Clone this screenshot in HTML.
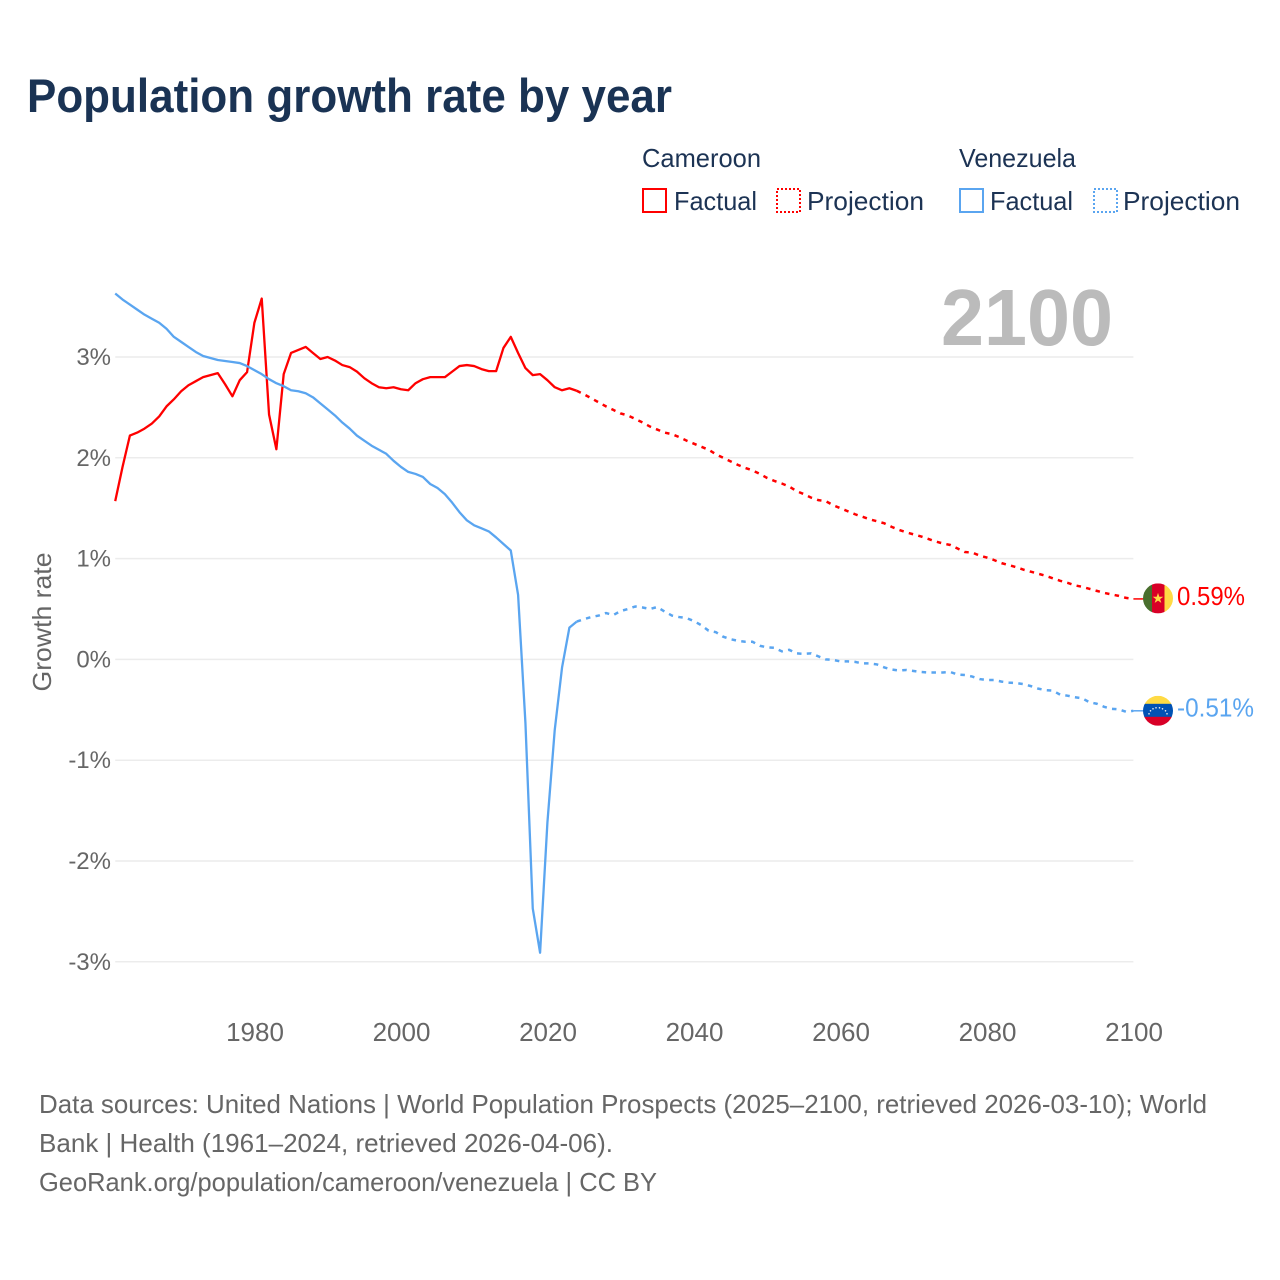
<!DOCTYPE html>
<html lang="en">
<head>
<meta charset="utf-8">
<title>Population growth rate by year</title>
<style>
  html, body { margin: 0; padding: 0; background: #fff; }
  svg { display: block; font-family: "Liberation Sans", sans-serif; }
</style>
</head>
<body>
<svg id="chart" xmlns="http://www.w3.org/2000/svg" width="1280" height="1280" viewBox="0 0 1280 1280">
  <rect x="0" y="0" width="1280" height="1280" fill="#ffffff"/>
  <text x="27" y="112" font-size="47" font-weight="700" fill="#1a3354" textLength="645" lengthAdjust="spacingAndGlyphs">Population growth rate by year</text>

  <g font-size="26" fill="#1c3354">
    <text x="642" y="167" textLength="119" lengthAdjust="spacingAndGlyphs">Cameroon</text>
    <text x="959" y="167" textLength="117" lengthAdjust="spacingAndGlyphs">Venezuela</text>
    <g>
      <rect x="643" y="189" width="23" height="23" fill="none" stroke="#ff0000" stroke-width="2"/>
      <text x="674" y="210" textLength="83" lengthAdjust="spacingAndGlyphs">Factual</text>
    </g>
    <g>
      <rect x="777" y="189" width="23" height="23" fill="none" stroke="#ff0000" stroke-width="2" stroke-dasharray="2 2"/>
      <text x="807" y="210" textLength="117" lengthAdjust="spacingAndGlyphs">Projection</text>
    </g>
    <g>
      <rect x="960" y="189" width="23" height="23" fill="none" stroke="#5aa5f0" stroke-width="2"/>
      <text x="990" y="210" textLength="83" lengthAdjust="spacingAndGlyphs">Factual</text>
    </g>
    <g>
      <rect x="1094" y="189" width="23" height="23" fill="none" stroke="#5aa5f0" stroke-width="2" stroke-dasharray="2 2"/>
      <text x="1123" y="210" textLength="117" lengthAdjust="spacingAndGlyphs">Projection</text>
    </g>
  </g>

  <text transform="translate(51 622) rotate(-90)" text-anchor="middle" font-size="26" fill="#666666" textLength="139" lengthAdjust="spacingAndGlyphs">Growth rate</text>

  <g id="grid"></g>
  <g id="y-ticks"></g>
  <g id="x-ticks"></g>

  <text x="941" y="345" font-size="80" font-weight="700" fill="#bbbbbb" textLength="172" lengthAdjust="spacingAndGlyphs">2100</text>

  <g id="series"></g>

  <g id="flag-cameroon">
    <clipPath id="clip-cm"><circle cx="0" cy="0" r="15"/></clipPath>
    <g clip-path="url(#clip-cm)">
      <rect x="-15" y="-15" width="9" height="30" fill="#496e2d"/>
      <rect x="-6" y="-15" width="12.5" height="30" fill="#d80027"/>
      <rect x="6.5" y="-15" width="9" height="30" fill="#ffda44"/>
      <polygon points="0,-5.5 1.3,-1.7 5.3,-1.7 2.1,0.7 3.3,4.5 0,2.2 -3.3,4.5 -2.1,0.7 -5.3,-1.7 -1.3,-1.7" fill="#ffda44"/>
    </g>
  </g>
  <g id="flag-venezuela">
    <clipPath id="clip-ve"><circle cx="0" cy="0" r="15"/></clipPath>
    <g clip-path="url(#clip-ve)">
      <rect x="-15" y="-15" width="30" height="9" fill="#ffda44"/>
      <rect x="-15" y="-7" width="30" height="14" fill="#0052b4"/>
      <rect x="-15" y="6" width="30" height="9" fill="#d80027"/>
      <g fill="#f0f0f0">
        <circle cx="-9" cy="3" r="0.8"/><circle cx="-7.5" cy="0" r="0.8"/><circle cx="-5" cy="-2" r="0.8"/><circle cx="-2" cy="-3" r="0.8"/>
        <circle cx="1.5" cy="-3" r="0.8"/><circle cx="4.5" cy="-2" r="0.8"/><circle cx="7.5" cy="0" r="0.8"/><circle cx="9" cy="3" r="0.8"/>
      </g>
    </g>
  </g>
  <g id="end-labels"></g>

  <g font-size="26" fill="#666666">
    <text x="39" y="1113" textLength="1168" lengthAdjust="spacingAndGlyphs">Data sources: United Nations | World Population Prospects (2025–2100, retrieved 2026-03-10); World</text>
    <text x="39" y="1152" textLength="574" lengthAdjust="spacingAndGlyphs">Bank | Health (1961–2024, retrieved 2026-04-06).</text>
    <text x="39" y="1191" textLength="618" lengthAdjust="spacingAndGlyphs">GeoRank.org/population/cameroon/venezuela | CC BY</text>
  </g>
</svg>

<script>
const factualStartYear = 1961;
const projectionStartYear = 2025;
const lastYear = 2100;
const yTickValues = [3, 2, 1, 0, -1, -2, -3];
const yTickLabels = ["3%", "2%", "1%", "0%", "-1%", "-2%", "-3%"];
const xTickValues = [1980, 2000, 2020, 2040, 2060, 2080, 2100];
const xTickLabels = ["1980", "2000", "2020", "2040", "2060", "2080", "2100"];
const endLabels = ["0.59%", "-0.51%"];

const cameroonFactual = [
  1.57, 1.91, 2.22, 2.25, 2.29, 2.34, 2.41, 2.51, 2.58, 2.66,
  2.72, 2.76, 2.80, 2.82, 2.84, 2.73, 2.61, 2.77, 2.85, 3.34,
  3.58, 2.43, 2.085, 2.83, 3.04, 3.07, 3.10, 3.04, 2.98, 3.00,
  2.965, 2.92, 2.90, 2.855, 2.79, 2.74, 2.70, 2.69, 2.70, 2.68,
  2.67, 2.74, 2.78, 2.80, 2.80, 2.80, 2.855, 2.91, 2.92, 2.91,
  2.88, 2.86, 2.86, 3.09, 3.20, 3.04, 2.89, 2.82, 2.83, 2.77,
  2.70, 2.67, 2.69, 2.665
];
const cameroonProjection = [
  2.63, 2.59, 2.55, 2.51, 2.475, 2.44, 2.42, 2.385, 2.35, 2.31,
  2.28, 2.25, 2.235, 2.205, 2.17, 2.14, 2.11, 2.08, 2.035, 2.00,
  1.965, 1.93, 1.90, 1.875, 1.84, 1.80, 1.77, 1.745, 1.715, 1.67,
  1.64, 1.605, 1.58, 1.57, 1.53, 1.50, 1.47, 1.44, 1.415, 1.39,
  1.37, 1.35, 1.315, 1.285, 1.26, 1.24, 1.22, 1.195, 1.17, 1.15,
  1.135, 1.10, 1.065, 1.06, 1.03, 1.01, 0.985, 0.955, 0.935, 0.915,
  0.89, 0.87, 0.85, 0.83, 0.805, 0.78, 0.76, 0.735, 0.72, 0.70,
  0.68, 0.66, 0.645, 0.63, 0.61, 0.60
];
const venezuelaFactual = [
  3.63, 3.57, 3.52, 3.47, 3.42, 3.38, 3.34, 3.28, 3.20, 3.15,
  3.10, 3.05, 3.01, 2.99, 2.97, 2.96, 2.95, 2.94, 2.91, 2.87,
  2.83, 2.78, 2.74, 2.71, 2.67, 2.66, 2.64, 2.60, 2.54, 2.48,
  2.42, 2.35, 2.29, 2.22, 2.17, 2.12, 2.08, 2.04, 1.97, 1.91,
  1.86, 1.84, 1.81, 1.74, 1.70, 1.64, 1.555, 1.46, 1.38, 1.33,
  1.30, 1.27, 1.21, 1.145, 1.08, 0.64, -0.63, -2.47, -2.91, -1.62,
  -0.70, -0.08, 0.315, 0.375
];
const venezuelaProjection = [
  0.40, 0.42, 0.435, 0.46, 0.44, 0.48, 0.50, 0.525, 0.515, 0.50,
  0.52, 0.475, 0.435, 0.42, 0.41, 0.38, 0.34, 0.285, 0.27, 0.225,
  0.20, 0.185, 0.175, 0.175, 0.135, 0.12, 0.115, 0.08, 0.095, 0.06,
  0.055, 0.06, 0.03, 0.00, -0.005, -0.02, -0.02, -0.025, -0.04, -0.04,
  -0.05, -0.08, -0.10, -0.11, -0.105, -0.115, -0.125, -0.13, -0.13, -0.13,
  -0.125, -0.15, -0.155, -0.17, -0.195, -0.205, -0.205, -0.22, -0.23, -0.235,
  -0.245, -0.265, -0.29, -0.305, -0.31, -0.35, -0.36, -0.375, -0.385, -0.425,
  -0.44, -0.47, -0.49, -0.495, -0.52, -0.51
];

const SVG_NS = "http://www.w3.org/2000/svg";
const xScale = function (year) { return 254.4 + (year - 1980) * (1133.4 - 254.4) / (2100 - 1980); };
const yScale = function (pct) { return 659.4 - pct * 100.8; };
const RED = "#ff0000";
const BLUE = "#5aa5f0";

const grid = document.getElementById("grid");
const yTicks = document.getElementById("y-ticks");
yTickValues.forEach(function (v, i) {
  const line = document.createElementNS(SVG_NS, "line");
  
  
  line.setAttribute("x1", xScale(factualStartYear));
  line.setAttribute("x2", xScale(lastYear));
  line.setAttribute("y1", yScale(v));
  line.setAttribute("y2", yScale(v));
  line.setAttribute("stroke", "#ececec");
  line.setAttribute("stroke-width", "1.5");
  grid.appendChild(line);

  const label = document.createElementNS(SVG_NS, "text");
  
  
  label.setAttribute("x", 111);
  label.setAttribute("y", yScale(v) + 8);
  label.setAttribute("text-anchor", "end");
  label.setAttribute("font-size", "24");
  label.setAttribute("fill", "#666666");
  label.textContent = yTickLabels[i];
  yTicks.appendChild(label);
});

const xTicks = document.getElementById("x-ticks");
xTickValues.forEach(function (v, i) {
  const label = document.createElementNS(SVG_NS, "text");
  
  
  label.setAttribute("x", xScale(v) + 0.6);
  label.setAttribute("y", 1041);
  label.setAttribute("text-anchor", "middle");
  label.setAttribute("font-size", "26");
  label.setAttribute("fill", "#666666");
  label.textContent = xTickLabels[i];
  xTicks.appendChild(label);
});

function pointsFrom(startYear, values) {
  return values.map(function (v, i) {
    return xScale(startYear + i).toFixed(2) + "," + yScale(v).toFixed(2);
  }).join(" ");
}

const seriesGroup = document.getElementById("series");

function addFactual(name, values, color) {
  const line = document.createElementNS(SVG_NS, "polyline");
  
  
  line.setAttribute("points", pointsFrom(factualStartYear, values));
  line.setAttribute("fill", "none");
  line.setAttribute("stroke", color);
  line.setAttribute("stroke-width", "2.3");
  line.setAttribute("stroke-linejoin", "round");
  seriesGroup.appendChild(line);
}

function addProjection(name, factual, values, color) {
  const bridged = [factual[factual.length - 1]].concat(values);
  const line = document.createElementNS(SVG_NS, "polyline");
  
  
  line.setAttribute("points", pointsFrom(projectionStartYear - 1, bridged));
  line.setAttribute("fill", "none");
  line.setAttribute("stroke", color);
  line.setAttribute("stroke-width", "2.5");
  line.setAttribute("stroke-dasharray", "4.5 5.3");
  seriesGroup.appendChild(line);
}

function addConnector(name, values, color) {
  const last = values[values.length - 1];
  const line = document.createElementNS(SVG_NS, "line");
  
  
  line.setAttribute("x1", xScale(lastYear));
  line.setAttribute("x2", xScale(lastYear) + 10);
  line.setAttribute("y1", yScale(last));
  line.setAttribute("y2", yScale(last));
  line.setAttribute("stroke", color);
  line.setAttribute("stroke-width", "1.5");
  seriesGroup.appendChild(line);
}

addFactual("cameroon-factual-line", cameroonFactual, RED);
addProjection("cameroon-projection-line", cameroonFactual, cameroonProjection, RED);
addConnector("cameroon-end-connector", cameroonProjection, RED);
addFactual("venezuela-factual-line", venezuelaFactual, BLUE);
addProjection("venezuela-projection-line", venezuelaFactual, venezuelaProjection, BLUE);
addConnector("venezuela-end-connector", venezuelaProjection, BLUE);

const cmLast = yScale(cameroonProjection[cameroonProjection.length - 1]);
const veLast = yScale(venezuelaProjection[venezuelaProjection.length - 1]);
document.getElementById("flag-cameroon").setAttribute("transform", "translate(1158 " + (cmLast - 0.5) + ")");
document.getElementById("flag-venezuela").setAttribute("transform", "translate(1158 " + veLast + ")");

const endGroup = document.getElementById("end-labels");

const cmLabel = document.createElementNS(SVG_NS, "text");


cmLabel.setAttribute("x", 1177);
cmLabel.setAttribute("y", cmLast + 6);
cmLabel.setAttribute("font-size", "26");
cmLabel.setAttribute("fill", RED);
cmLabel.setAttribute("textLength", "68");
cmLabel.setAttribute("lengthAdjust", "spacingAndGlyphs");
cmLabel.textContent = endLabels[0];
endGroup.appendChild(cmLabel);

const veLabel = document.createElementNS(SVG_NS, "text");


veLabel.setAttribute("x", 1177);
veLabel.setAttribute("y", veLast + 5.5);
veLabel.setAttribute("font-size", "26");
veLabel.setAttribute("fill", BLUE);
veLabel.setAttribute("textLength", "77");
veLabel.setAttribute("lengthAdjust", "spacingAndGlyphs");
veLabel.textContent = endLabels[1];
endGroup.appendChild(veLabel);
</script>
</body>
</html>
